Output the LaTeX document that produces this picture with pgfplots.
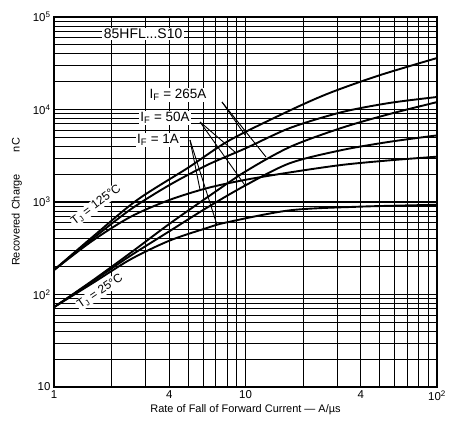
\documentclass[border=0pt]{standalone}
\usepackage{fontspec}
\setmainfont{Liberation Sans}
\usepackage{pgfplots}
\pgfplotsset{compat=1.18}
\tikzset{mycurve/.style={black, solid, line width=1.9pt, mark=none, smooth}}
\begin{document}
\begin{tikzpicture}
\begin{axis}[
  scale only axis, width=383bp, height=370bp,
  xmode=log, ymode=log,
  xmin=1, xmax=100, ymin=10, ymax=100000,
  xtick={1,10,100}, xticklabels={1,10,10\textsuperscript{2}},
  minor xtick={2,3,4,5,6,7,8,9,20,30,40,50,60,70,80,90},
  extra x ticks={4,40}, extra x tick labels={4,4},
  extra x tick style={grid=none},
  ytick={10,100,1000,10000,100000},
  yticklabels={10,10\textsuperscript{2},10\textsuperscript{3},10\textsuperscript{4},10\textsuperscript{5}},
  minor ytick={20,30,40,50,60,70,80,90,200,300,400,500,600,700,800,900,2000,3000,4000,5000,6000,7000,8000,9000,20000,30000,40000,50000,60000,70000,80000,90000},
  grid=both,
  major grid style={black, line width=1.4pt},
  minor grid style={black, line width=0.7pt},
  tick style={draw=none},
  axis line style={black, line width=1.8pt},
  tick label style={font=\fontsize{11.5}{12}\selectfont},
  label style={font=\fontsize{11}{12}\selectfont},
  xlabel={Rate of Fall of Forward Current — A/µs},
  ylabel={Recovered Charge\qquad nC},
  xlabel style={yshift=3pt},
  ylabel style={yshift=4pt},
]
% Tj = 125 C
\addplot[mycurve] coordinates {(1,184) (1.585,417) (2.71,1047) (5.01,2344) (8.3,4677) (17.06,9772) (27.6,15136) (50.1,23442) (100,36000)};
\addplot[mycurve] coordinates {(1,184) (1.585,398) (2.512,832) (3.981,1514) (6.31,2512) (10,3802) (17.06,6310) (31.62,9333) (56.23,11749) (100,13650)};
\addplot[mycurve] coordinates {(1,184) (1.585,380) (2.512,692) (3.981,1047) (6.31,1413) (10,1738) (17.06,2089) (31.62,2512) (56.23,2818) (100,3090)};
% Tj = 25 C
\addplot[mycurve] coordinates {(1,73) (1.585,141) (2.512,282) (3.981,575) (6.31,1122) (10,2138) (17.06,3936) (31.62,6310) (56.23,8913) (100,12020)};
\addplot[mycurve] coordinates {(1,73) (1.585,138) (2.512,263) (3.981,479) (6.31,871) (10,1514) (17.06,2630) (31.62,3631) (56.23,4467) (100,5248)};
\addplot[mycurve] coordinates {(1,73) (1.585,132) (2.512,240) (3.981,380) (6.31,525) (8,603) (17.06,813) (39.81,891) (100,933)};
% leader lines
\draw[line width=0.9pt] (7.54,12050) -- (9.94,5300);
\draw[line width=0.9pt] (7.54,12050) -- (12.8,3060);
\draw[line width=0.9pt] (5.79,7330) -- (8.81,3475);
\draw[line width=0.9pt] (5.79,7330) -- (9.94,1514);
\draw[line width=0.9pt] (5.13,4680) -- (5.79,1350);
\draw[line width=0.9pt] (5.13,4680) -- (7.10,564);
% labels
\node[fill=white, inner sep=1.5pt, font=\fontsize{14}{15}\selectfont] at (2.92,65500) {85HFL...S10};
\node[fill=white, inner sep=1.5pt, font=\fontsize{13.5}{14}\selectfont] at (4.44,14360) {I$_\mathrm{F}$ = 265A};
\node[fill=white, inner sep=1.5pt, font=\fontsize{13.5}{14}\selectfont] at (3.8,8130) {I$_\mathrm{F}$ = 50A};
\node[fill=white, inner sep=1.5pt, font=\fontsize{13.5}{14}\selectfont] at (3.49,4680) {I$_\mathrm{F}$ = 1A};
\node[fill=white, inner sep=1pt, rotate=37, font=\fontsize{12}{13}\selectfont] at (1.66,930) {T$_\mathrm{J}$ = 125°C};
\node[fill=white, inner sep=1pt, rotate=34, font=\fontsize{12}{13}\selectfont] at (1.74,108) {T$_\mathrm{J}$ = 25°C};
\coordinate (bl) at (rel axis cs:0,0);
\coordinate (tr) at (rel axis cs:1,1);
\end{axis}
\pgfresetboundingbox
\path[use as bounding box] ([xshift=-54bp,yshift=-44bp]bl) rectangle ([xshift=17bp,yshift=17bp]tr);
\end{tikzpicture}
\end{document}
